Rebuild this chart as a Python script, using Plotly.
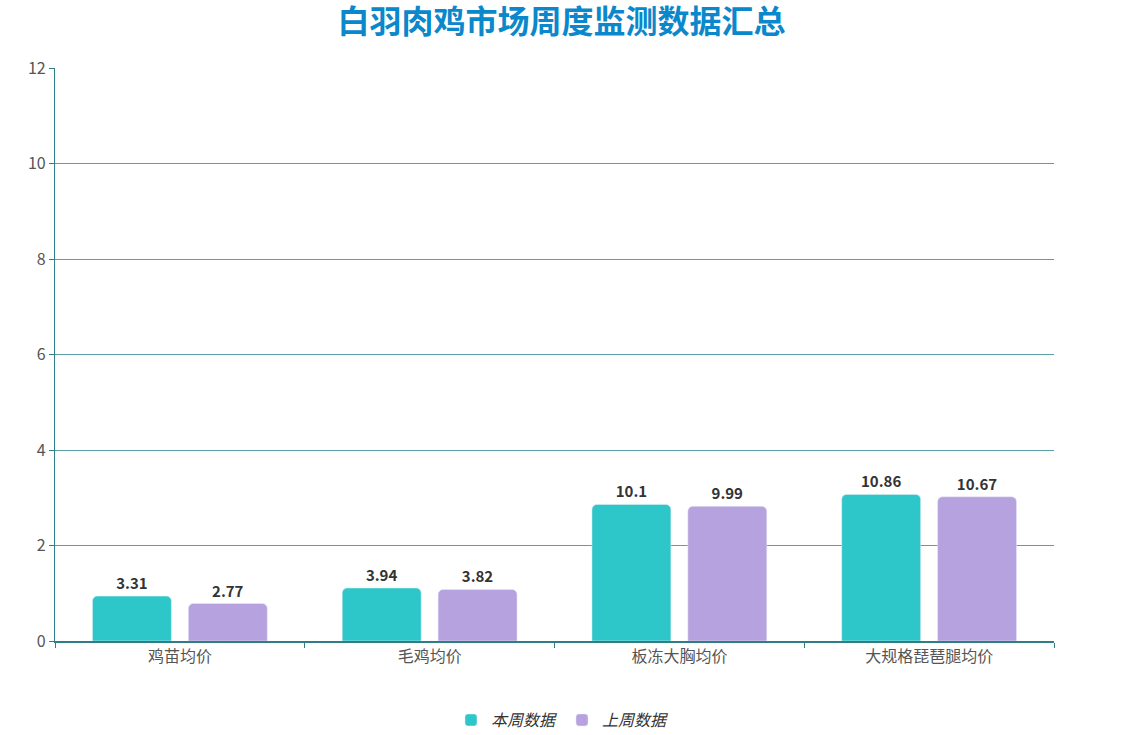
import plotly.graph_objects as go

categories = ["鸡苗均价", "毛鸡均价", "板冻大胸均价", "大规格琵琶腿均价"]
this_week_heights = [0.94, 1.11, 2.86, 3.07]
last_week_heights = [0.785, 1.08, 2.82, 3.02]
this_week_labels = ["3.31", "3.94", "10.1", "10.86"]
last_week_labels = ["2.77", "3.82", "9.99", "10.67"]
y_ticks = [0, 2, 4, 6, 8, 10, 12]

FONT = "Noto Sans CJK SC"
label_font = dict(family=FONT, size=15, color="#333333", weight="bold")

fig = go.Figure()
fig.add_trace(go.Bar(
    name="本周数据", x=categories, y=this_week_heights,
    text=this_week_labels, textposition="outside", textfont=label_font,
    constraintext="none",
    marker=dict(color="#2ec7c9", cornerradius=5), cliponaxis=False,
))
fig.add_trace(go.Bar(
    name="上周数据", x=categories, y=last_week_heights,
    text=last_week_labels, textposition="outside", textfont=label_font,
    constraintext="none",
    marker=dict(color="#b6a2de", cornerradius=5), cliponaxis=False,
))

fig.update_layout(
    width=1123, height=735, autosize=False,
    margin=dict(l=55, r=69, t=68, b=94, autoexpand=False),
    paper_bgcolor="white", plot_bgcolor="white",
    barmode="group", bargap=0.232, bargroupgap=0.177,
    title=dict(text="白羽肉鸡市场周度监测数据汇总", x=0.5, xref="container", xanchor="center",
               y=0.97, yref="container", yanchor="middle",
               font=dict(family=FONT, size=32, color="#0a88cb", weight="bold")),
    legend=dict(orientation="h", x=0.5075, xanchor="center",
                y=-0.138, yanchor="middle",
                font=dict(family=FONT, size=16, color="#333333", style="italic")),
    showlegend=True,
    font=dict(family=FONT),
)
fig.update_xaxes(
    showline=True, linecolor="#2e7d87", linewidth=1.5,
    ticks="outside", ticklen=5, tickcolor="#2e7d87", tickson="boundaries",
    tickfont=dict(family=FONT, size=16, color="#555555"), tickangle=0,
    showgrid=False,
)
fig.update_yaxes(
    range=[0, 12], tickvals=y_ticks,
    showline=True, linecolor="#2e7d87", linewidth=1.2,
    ticks="outside", ticklen=5, tickcolor="#2e7d87",
    tickfont=dict(family=FONT, size=16, color="#555555"),
    showgrid=True, gridcolor="#5a9ea6", gridwidth=1, zeroline=False,
)

fig.write_html("out.html", config={"displayModeBar": False},
               post_script="document.body.style.margin='0';")
